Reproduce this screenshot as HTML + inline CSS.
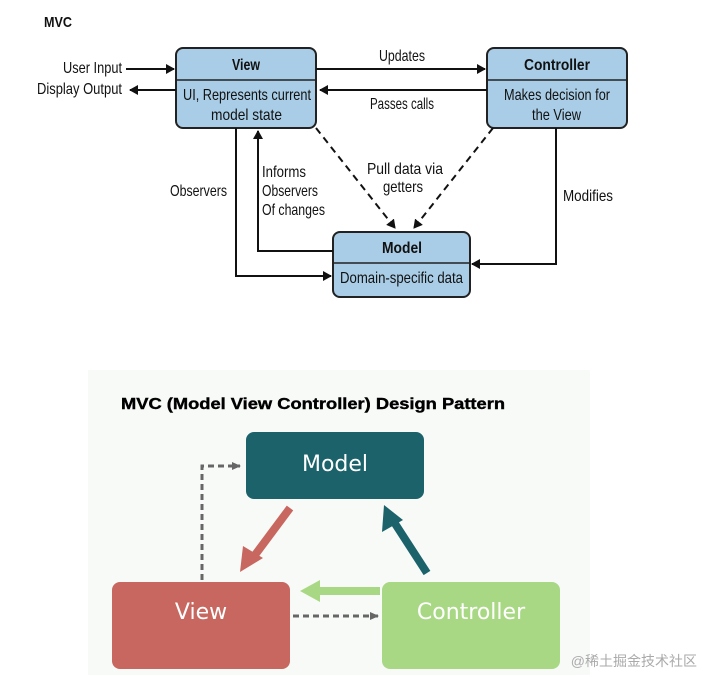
<!DOCTYPE html>
<html><head><style>
body{margin:0;background:#fff;width:712px;height:689px;overflow:hidden;position:relative;font-family:"Liberation Sans",sans-serif}
</style></head><body>
<svg width="712" height="689" style="position:absolute;left:0;top:0" font-family="Liberation Sans, sans-serif">
<defs>
<marker id="a" markerWidth="10" markerHeight="10" refX="8" refY="5" orient="auto" markerUnits="userSpaceOnUse"><path d="M0,0 L9,5 L0,10 Z" fill="#111"/></marker>
<marker id="g" markerWidth="10" markerHeight="10" refX="8" refY="5" orient="auto" markerUnits="userSpaceOnUse"><path d="M0,1 L9,5 L0,9 Z" fill="#666"/></marker>
</defs>
<text x="44" y="27" font-size="15" font-weight="bold" fill="#111" textLength="28" lengthAdjust="spacingAndGlyphs">MVC</text>
<g stroke="#222" stroke-width="2" fill="#a9cde6">
<rect x="176" y="48" width="140" height="80" rx="7"/>
<rect x="487" y="48" width="140" height="80" rx="7"/>
<rect x="333" y="232" width="137" height="65" rx="7"/>
</g>
<g stroke="#222" stroke-width="1.5">
<line x1="176" y1="80" x2="316" y2="80"/><line x1="487" y1="80" x2="627" y2="80"/><line x1="333" y1="263" x2="470" y2="263"/>
</g>
<g font-size="16" fill="#111" lengthAdjust="spacingAndGlyphs">
<text x="232" y="70" font-weight="bold" textLength="28" lengthAdjust="spacingAndGlyphs">View</text>
<text x="183" y="100" textLength="128" lengthAdjust="spacingAndGlyphs">UI, Represents current</text>
<text x="211" y="120" textLength="71" lengthAdjust="spacingAndGlyphs">model state</text>
<text x="524" y="70" font-weight="bold" textLength="66" lengthAdjust="spacingAndGlyphs">Controller</text>
<text x="504" y="100" textLength="106" lengthAdjust="spacingAndGlyphs">Makes decision for</text>
<text x="532" y="120" textLength="49" lengthAdjust="spacingAndGlyphs">the View</text>
<text x="382" y="253" font-weight="bold" textLength="40" lengthAdjust="spacingAndGlyphs">Model</text>
<text x="340" y="283" textLength="123" lengthAdjust="spacingAndGlyphs">Domain-specific data</text>
<text x="379" y="61" textLength="46" lengthAdjust="spacingAndGlyphs">Updates</text>
<text x="370" y="109" textLength="64" lengthAdjust="spacingAndGlyphs">Passes calls</text>
<text x="367" y="174" textLength="76" lengthAdjust="spacingAndGlyphs">Pull data via</text>
<text x="383" y="192" textLength="40" lengthAdjust="spacingAndGlyphs">getters</text>
<text x="63" y="73" textLength="59" lengthAdjust="spacingAndGlyphs">User Input</text>
<text x="37" y="94" textLength="85" lengthAdjust="spacingAndGlyphs">Display Output</text>
<text x="170" y="196" textLength="57" lengthAdjust="spacingAndGlyphs">Observers</text>
<text x="262" y="177" textLength="44" lengthAdjust="spacingAndGlyphs">Informs</text>
<text x="262" y="196" textLength="56" lengthAdjust="spacingAndGlyphs">Observers</text>
<text x="262" y="215" textLength="63" lengthAdjust="spacingAndGlyphs">Of changes</text>
<text x="563" y="201" textLength="50" lengthAdjust="spacingAndGlyphs">Modifies</text>
</g>
<g stroke="#111" stroke-width="2" fill="none">
<line x1="126" y1="69" x2="174" y2="69" marker-end="url(#a)"/>
<line x1="176" y1="90" x2="130" y2="90" marker-end="url(#a)"/>
<line x1="316" y1="69" x2="485" y2="69" marker-end="url(#a)"/>
<line x1="487" y1="90" x2="320" y2="90" marker-end="url(#a)"/>
<polyline points="236,128 236,276 331,276" marker-end="url(#a)"/>
<polyline points="333,251 258,251 258,131" marker-end="url(#a)"/>
<polyline points="556,128 556,264 472,264" marker-end="url(#a)"/>
<line x1="316" y1="128" x2="395" y2="228" stroke-dasharray="7,5" marker-end="url(#a)"/>
<line x1="493" y1="128" x2="414" y2="228" stroke-dasharray="7,5" marker-end="url(#a)"/>
</g>
<rect x="88" y="370" width="502" height="305" fill="#f8faf8"/>
<text x="121" y="409" font-size="16" font-weight="bold" fill="#000" textLength="384" lengthAdjust="spacingAndGlyphs" stroke="#000" stroke-width="0.4">MVC (Model View Controller) Design Pattern</text>
<rect x="246" y="432" width="178" height="67" rx="8" fill="#1b626a"/>
<rect x="112" y="582" width="178" height="87" rx="8" fill="#c7675f"/>
<rect x="382" y="582" width="178" height="87" rx="8" fill="#a9d885"/>
<g font-family="DejaVu Sans, sans-serif" font-size="22" fill="#fff" text-anchor="middle">
<text x="335" y="471">Model</text>
<text x="201" y="619">View</text>
<text x="471" y="619">Controller</text>
</g>
<g stroke="#666" stroke-width="3" fill="none" stroke-dasharray="6,4">
<polyline points="202,580 202,466 240,466" marker-end="url(#g)"/>
<line x1="293" y1="616" x2="378" y2="616" marker-end="url(#g)"/>
</g>
<line x1="290" y1="508" x2="255" y2="555" stroke="#c7675f" stroke-width="8"/>
<polygon points="240,572 243,546 263,558" fill="#c7675f"/>
<line x1="427" y1="573" x2="394" y2="522" stroke="#1b626a" stroke-width="8"/>
<polygon points="384,505 382,532 403,520" fill="#1b626a"/>
<line x1="380" y1="591" x2="316" y2="591" stroke="#a9d885" stroke-width="8"/>
<polygon points="300,591 320,580 320,602" fill="#a9d885"/>
<text x="697" y="666" font-family="Liberation Sans, Noto Sans CJK SC, sans-serif" font-size="14" fill="#aaa" text-anchor="end">@稀土掘金技术社区</text>
</svg>
</body></html>
